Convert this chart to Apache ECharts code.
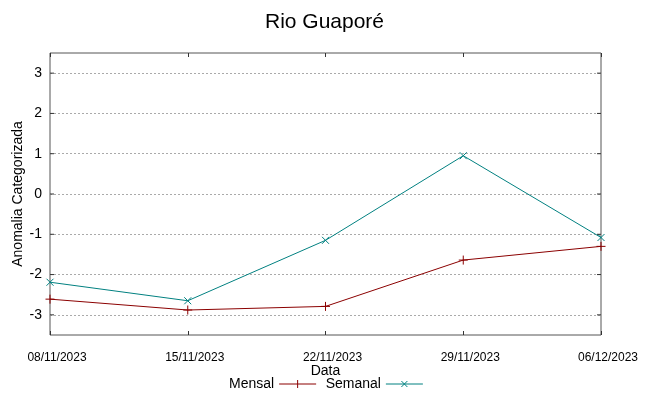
<!DOCTYPE html>
<html>
<head>
<meta charset="utf-8">
<script src="https://cdn.jsdelivr.net/npm/echarts@6/dist/echarts.min.js"></script>
<style>html,body{margin:0;padding:0;background:#fff}#c{width:649px;height:396px}</style>
</head>
<body>
<div id="c"></div>
<script>
const categories = ['08/11/2023', '15/11/2023', '22/11/2023', '29/11/2023', '06/12/2023'];
const mensal = [-2.61, -2.88, -2.79, -1.64, -1.30];
const semanal = [-2.19, -2.65, -1.15, 0.95, -1.08];
const yTicks = [-3, -2, -1, 0, 1, 2, 3];

const redC = '#8b0000';
const tealC = '#008080';
const plusPath = 'path://M0,5L10,5M5,0L5,10';
const crossPath = 'path://M0,0L10,10M10,0L0,10';
const font = 'Liberation Sans, Arial, sans-serif';

const xCommon = {
  type: 'category', data: categories, boundaryGap: false,
  axisLine: { show: false, onZero: false },
  axisTick: { inside: true, length: 4, lineStyle: { color: '#333' } },
  splitLine: { show: false }
};

const chart = echarts.init(document.getElementById('c'));
chart.setOption({
  animation: false,
  title: {
    text: 'Rio Guaporé', left: 'center', top: 7,
    textStyle: { fontFamily: font, fontSize: 21, fontWeight: 'normal', color: '#000' }
  },
  grid: { left: 50, right: 48, top: 53, bottom: 61, show: true, borderColor: '#555', borderWidth: 1, outerBoundsMode: 'none', containLabel: false },
  legend: {
    left: 224, top: 372, itemGap: 7, itemWidth: 37, itemHeight: 8, align: 'right',
    textStyle: { fontFamily: font, fontSize: 14, color: '#000', padding: [0, 0, 0, 0] },
    data: [
      { name: 'Mensal', icon: 'path://M0,4L37,4M18.5,0L18.5,8', itemStyle: { color: 'none', borderColor: redC, borderWidth: 1 } },
      { name: 'Semanal', icon: 'path://M0,4L37,4M15.5,1L21.5,7M21.5,1L15.5,7', itemStyle: { color: 'none', borderColor: tealC, borderWidth: 1 } }
    ]
  },
  xAxis: [
    Object.assign({}, xCommon, {
      position: 'bottom',
      name: 'Data', nameLocation: 'middle', nameGap: 29, nameMoveOverlap: false,
      nameTextStyle: { fontFamily: font, fontSize: 14, color: '#000' },
      axisLabel: { fontFamily: font, fontSize: 12, color: '#000', margin: 17, padding: [0, 0, 0, 14] }
    }),
    Object.assign({}, xCommon, { position: 'top', axisLabel: { show: false } })
  ],
  yAxis: {
    type: 'value', min: -3.5, max: 3.5, interval: 0.5,
    name: 'Anomalia Categorizada', nameLocation: 'middle', nameGap: 25, nameMoveOverlap: false,
    nameTextStyle: { fontFamily: font, fontSize: 14, color: '#000' },
    axisLine: { show: false, onZero: false },
    axisTick: { show: false },
    axisLabel: {
      fontFamily: font, fontSize: 14, color: '#000', margin: 8,
      formatter: v => (yTicks.indexOf(v) >= 0 ? String(v) : '')
    },
    splitLine: { show: true, lineStyle: { type: [2, 2], width: 1, color: ['rgba(0,0,0,0)', '#aaa'] } }
  },
  series: [
    {
      name: 'yticks', type: 'custom', silent: true, z: 5,
      data: yTicks.map(v => [0, v]),
      renderItem: (params, api) => {
        const v = api.value(1);
        const l = api.coord([0, v]);
        const r = api.coord([categories.length - 1, v]);
        const st = { stroke: '#333', lineWidth: 1 };
        return {
          type: 'group', children: [
            { type: 'line', shape: { x1: l[0], y1: l[1], x2: l[0] + 4, y2: l[1] }, style: st },
            { type: 'line', shape: { x1: r[0], y1: r[1], x2: r[0] - 4, y2: r[1] }, style: st }
          ]
        };
      }
    },
    {
      name: 'Mensal', type: 'line', data: mensal,
      symbol: plusPath, symbolSize: 9, showAllSymbol: true,
      lineStyle: { color: redC, width: 1 },
      itemStyle: { color: 'none', borderColor: redC, borderWidth: 1 }
    },
    {
      name: 'Semanal', type: 'line', data: semanal,
      symbol: crossPath, symbolSize: 7, showAllSymbol: true,
      lineStyle: { color: tealC, width: 1 },
      itemStyle: { color: 'none', borderColor: tealC, borderWidth: 1 }
    }
  ]
});
</script>
</body>
</html>
